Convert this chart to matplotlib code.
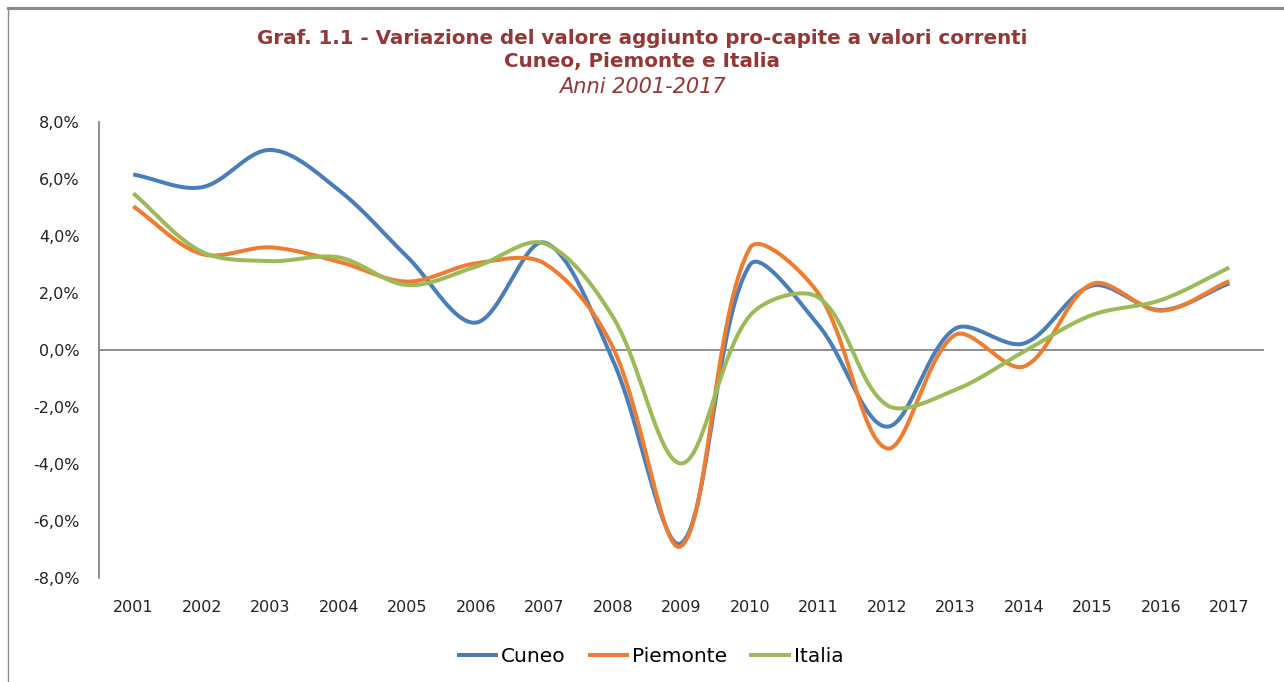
import numpy as np
import matplotlib.pyplot as plt
from matplotlib.lines import Line2D

years = list(range(2001, 2018))
cuneo = [6.16, 5.71, 7.02, 5.61, 3.27, 0.96, 3.77, -0.35, -6.78, 2.98, 0.88, -2.69, 0.75, 0.23, 2.26, 1.40, 2.34]
piemonte = [5.04, 3.37, 3.60, 3.10, 2.40, 3.04, 3.04, 0.10, -6.88, 3.57, 1.99, -3.45, 0.53, -0.58, 2.32, 1.38, 2.42]
italia = [5.50, 3.45, 3.12, 3.25, 2.28, 2.92, 3.74, 1.17, -3.98, 1.20, 1.85, -1.93, -1.40, -0.06, 1.23, 1.75, 2.89]

series = [("Cuneo", cuneo, "#4a7ebb"),
          ("Piemonte", piemonte, "#ee7d31"),
          ("Italia", italia, "#9bbb59")]

title_color = "#953735"
grey = "#868686"

# pixel size of one category / one percent, used to smooth in screen space
XPX, YPX = 68.5, 28.5


def smooth(y, n=40):
    # bezier smoothing in the style of Excel's "smoothed line"
    p = np.column_stack([np.arange(len(y)) * XPX, np.asarray(y, float) * YPX])
    m = len(p)
    c_in = p.copy()
    c_out = p.copy()
    for i in range(m):
        a = p[max(i - 1, 0)]
        b = p[min(i + 1, m - 1)]
        d01 = np.hypot(*(p[i] - a))
        d12 = np.hypot(*(b - p[i]))
        if d01 + d12 == 0:
            continue
        c_in[i] = p[i] - (b - a) * d01 / (d01 + d12) / 3
        c_out[i] = p[i] + (b - a) * d12 / (d01 + d12) / 3
    t = np.linspace(0, 1, n, endpoint=False)[:, None]
    pts = []
    for i in range(m - 1):
        p0, p1, p2, p3 = p[i], c_out[i], c_in[i + 1], p[i + 1]
        pts.append((1 - t) ** 3 * p0 + 3 * (1 - t) ** 2 * t * p1
                   + 3 * (1 - t) * t ** 2 * p2 + t ** 3 * p3)
    pts.append(p[-1:])
    pts = np.vstack(pts)
    return pts[:, 0] / XPX, pts[:, 1] / YPX


fig = plt.figure(figsize=(12.84, 6.82), dpi=100)
ax = fig.add_axes([99 / 1284, 1 - 578 / 682, (1263.5 - 99) / 1284, (578 - 122) / 682])

pos = np.arange(len(years))
for name, vals, col in series:
    sx, sy = smooth(vals)
    ax.plot(sx, sy, color=col, lw=2.9, label=name, solid_capstyle="butt")

ax.set_xlim(-0.5, len(years) - 0.5)
ax.set_ylim(-8, 8)
ax.set_yticks(np.arange(-8, 9, 2))
ax.set_yticklabels([f"{v:.1f}%".replace(".", ",") for v in np.arange(-8, 9, 2)])
ax.set_xticks(pos)
ax.set_xticklabels([str(y) for y in years])
ax.tick_params(axis="y", length=0, pad=14, labelsize=11.5, labelcolor="#222222")
ax.tick_params(axis="x", length=0, pad=16, labelsize=11.5, labelcolor="#222222")
for s in ("top", "right", "bottom"):
    ax.spines[s].set_visible(False)
ax.spines["left"].set_color(grey)
ax.spines["left"].set_linewidth(1.3)
ax.axhline(0, color=grey, lw=1.3, zorder=1)

fig.text(0.5, 1 - 38 / 682, "Graf. 1.1 - Variazione del valore aggiunto pro-capite a valori correnti",
         ha="center", va="center", color=title_color, fontsize=14.3, fontweight="bold")
fig.text(0.5, 1 - 62 / 682, "Cuneo, Piemonte e Italia",
         ha="center", va="center", color=title_color, fontsize=14.3, fontweight="bold")
fig.text(0.5, 1 - 87 / 682, "Anni 2001-2017",
         ha="center", va="center", color=title_color, fontsize=15, style="italic")

fig.legend(loc="center", bbox_to_anchor=(650 / 1284, 1 - 657 / 682), ncol=3, frameon=False,
           fontsize=14.5, handlelength=2.05, handletextpad=0.15, columnspacing=1.1)

fig.add_artist(Line2D([8 / 1284, 1], [1 - 8 / 682, 1 - 8 / 682], color="#8c8c8c", lw=2.2))
fig.add_artist(Line2D([8 / 1284, 8 / 1284], [0, 1 - 8 / 682], color="#8c8c8c", lw=1.0))

fig.savefig("out.png", dpi=100)
